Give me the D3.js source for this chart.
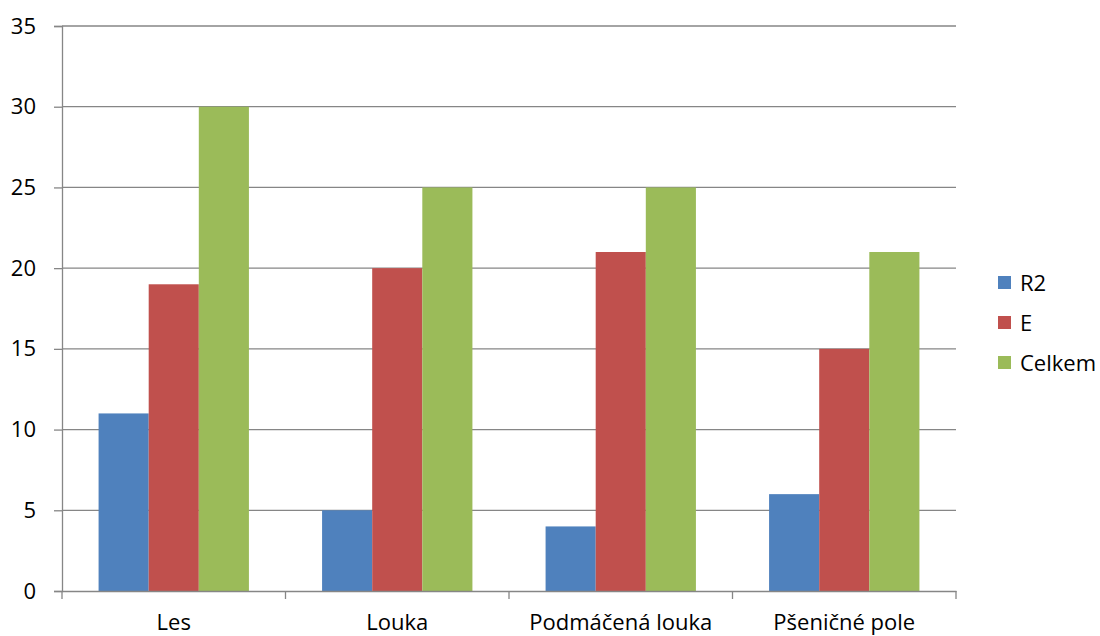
<!DOCTYPE html>
<html><head><meta charset="utf-8">
<script src="https://cdnjs.cloudflare.com/ajax/libs/d3/7.8.5/d3.min.js"></script>
<style>body{margin:0;background:#fff}svg{display:block}</style>
</head><body>
<script>
const categories = ["Les", "Louka", "Podmáčená louka", "Pšeničné pole"];
const seriesNames = ["R2", "E", "Celkem"];
const r2 = [11, 5, 4, 6];
const e = [19, 20, 21, 15];
const celkem = [30, 25, 25, 21];
const yTicks = [0, 5, 10, 15, 20, 25, 30, 35];
const colors = ["#4F81BD", "#C0504D", "#9BBB59"];
const seriesValues = [r2, e, celkem];

const W = 1100, H = 636;
const L = 62, R = 956, T = 26, B = 591;
const font = "'Open Sans', Lato, sans-serif";
const fs = 22;
const svg = d3.select("body").append("svg").attr("width", W).attr("height", H);

const y = d3.scaleLinear().domain([0, 35]).range([B, T]);
const x = d3.scaleBand().domain(categories).range([L, R]);
const inner = d3.scaleBand().domain(seriesNames).range([0, x.bandwidth()]).paddingOuter(0.73).paddingInner(0);

// gridlines
svg.append("g").selectAll("line").data(yTicks.filter(d => d > 0)).join("line")
  .attr("x1", L).attr("x2", R).attr("y1", d => y(d)).attr("y2", d => y(d))
  .attr("stroke", "#868686").attr("stroke-width", 1.3);

// bars
seriesNames.forEach((s, si) => {
  svg.append("g").selectAll("rect").data(categories).join("rect")
    .attr("x", c => x(c) + inner(s))
    .attr("width", inner.bandwidth())
    .attr("y", (c, i) => y(seriesValues[si][i]))
    .attr("height", (c, i) => B - y(seriesValues[si][i]))
    .attr("fill", colors[si]);
});

// y axis
const yAxis = d3.axisLeft(y).tickValues(yTicks).tickSize(8).tickPadding(18);
const gy = svg.append("g").attr("transform", `translate(${L},0)`).call(yAxis);
gy.select(".domain").attr("stroke", "#868686").attr("stroke-width", 1.3);
gy.selectAll(".tick line").attr("stroke", "#868686").attr("stroke-width", 1.3);
gy.selectAll("text").attr("font-family", font).attr("font-size", fs).attr("fill", "#000");

// x axis
const gx = svg.append("g").attr("transform", `translate(0,${B})`)
  .call(d3.axisBottom(x).tickSize(0));
gx.select(".domain").attr("stroke", "#868686").attr("stroke-width", 1.3);
gx.selectAll("text").attr("font-family", font).attr("font-size", fs).attr("fill", "#000")
  .attr("y", 39).attr("dy", 0);
// category boundary ticks
const bounds = categories.map(c => x(c)).concat([R]);
svg.append("g").selectAll("line").data(bounds).join("line")
  .attr("x1", d => d).attr("x2", d => d).attr("y1", B).attr("y2", B + 8)
  .attr("stroke", "#868686").attr("stroke-width", 1.3);

// legend
const lg = svg.append("g");
seriesNames.forEach((s, i) => {
  const cy = 283 + i * 40;
  lg.append("rect").attr("x", 998).attr("y", cy - 7).attr("width", 13).attr("height", 13).attr("fill", colors[i]);
  lg.append("text").attr("x", 1020).attr("y", cy).attr("dy", "0.35em")
    .attr("font-family", font).attr("font-size", fs).attr("fill", "#000").text(s);
});
</script>
</body></html>
